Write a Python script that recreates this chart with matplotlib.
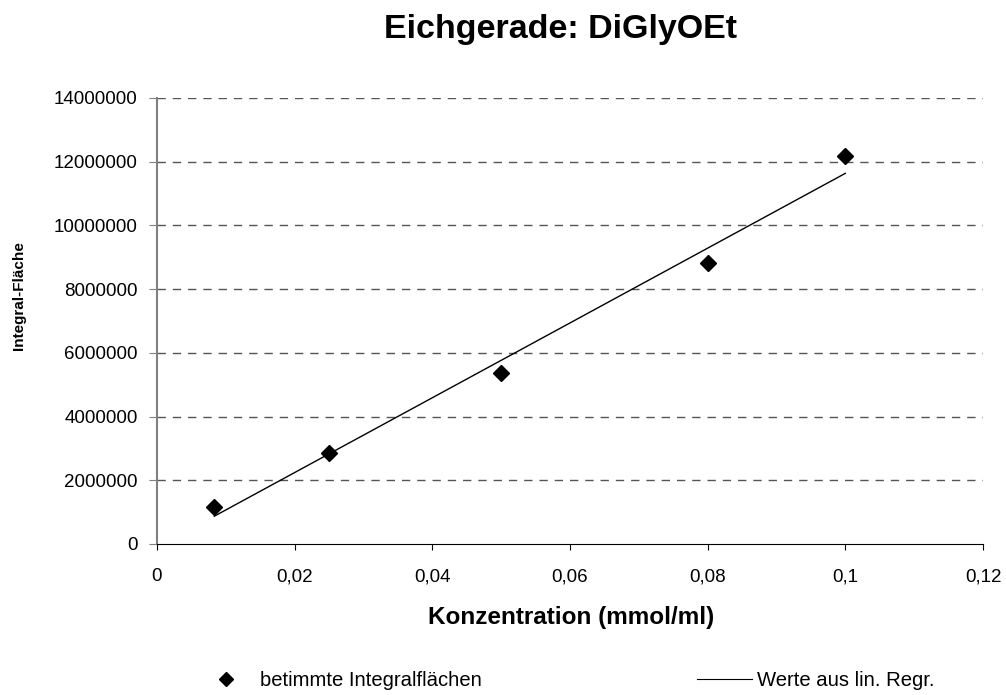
import matplotlib.pyplot as plt
import matplotlib.ticker as mticker
from matplotlib.lines import Line2D

plt.rcParams['font.family'] = ['Liberation Sans', 'DejaVu Sans']

# Messwerte
konz = [0.00833, 0.025, 0.05, 0.08, 0.1]
flaeche = [1160000, 2860000, 5380000, 8820000, 12170000]
# Werte aus linearer Regression
regr = [873000, 2830000, 5765000, 9287000, 11635000]

xticks = [0, 0.02, 0.04, 0.06, 0.08, 0.1, 0.12]
xticklabels = ["0", "0,02", "0,04", "0,06", "0,08", "0,1", "0,12"]
yticks = [0, 2000000, 4000000, 6000000, 8000000, 10000000, 12000000, 14000000]

W, H = 1006, 695
fig = plt.figure(figsize=(W / 100, H / 100), dpi=100)
ax = fig.add_axes([157 / W, 1 - 544 / H, 826 / W, 446 / H])

for y in yticks[1:]:
    ax.axhline(y, color="#555555", lw=1, ls=(0, (6, 5)), zorder=0)

ax.plot(konz, regr, color="black", lw=1)
ax.plot(konz, flaeche, ls="none", marker="D", ms=8.5, color="black")

ax.set_xlim(0, 0.12)
ax.set_ylim(0, 14000000)
ax.set_xticks(xticks)
ax.set_xticklabels(xticklabels)
ax.set_yticks(yticks)
ax.yaxis.set_major_formatter(mticker.FuncFormatter(lambda v, p: "%d" % v))
ax.tick_params(labelsize=13.5, direction="out")
ax.tick_params(axis="y", color="#808080", length=6, pad=8)
ax.tick_params(axis="x", length=4.5, pad=13)

ax.spines["top"].set_visible(False)
ax.spines["right"].set_visible(False)
ax.spines["left"].set_color("#808080")
ax.spines["left"].set_linewidth(1.5)
ax.spines["bottom"].set_color("black")

fig.text(571.5 / W, 1 - 624 / H, "Konzentration (mmol/ml)", fontsize=17.5,
         fontweight="bold", ha="center", va="baseline")
fig.text(19 / W, 1 - 296 / H, "Integral-Fläche", fontsize=11, fontweight="bold",
         rotation=90, ha="center", va="center")
fig.text(560 / W, 1 - 38 / H, "Eichgerade: DiGlyOEt", fontsize=24.5,
         fontweight="bold", ha="center", va="baseline")

leg1 = fig.legend([Line2D([], [], ls="none", marker="D", ms=7.5, color="black")],
                  ["betimmte Integralflächen"], loc="center left",
                  bbox_to_anchor=(206 / W, 1 - 681 / H), frameon=False, fontsize=14.6,
                  handlelength=2.0, handletextpad=0.66, borderpad=0, borderaxespad=0)
leg2 = fig.legend([Line2D([], [], color="black", lw=0.8)],
                  ["Werte aus lin. Regr."], loc="center left",
                  bbox_to_anchor=(697 / W, 1 - 681 / H), frameon=False, fontsize=14.6,
                  handlelength=2.7, handletextpad=0.25, borderpad=0, borderaxespad=0)

fig.savefig("out.png", dpi=100)
